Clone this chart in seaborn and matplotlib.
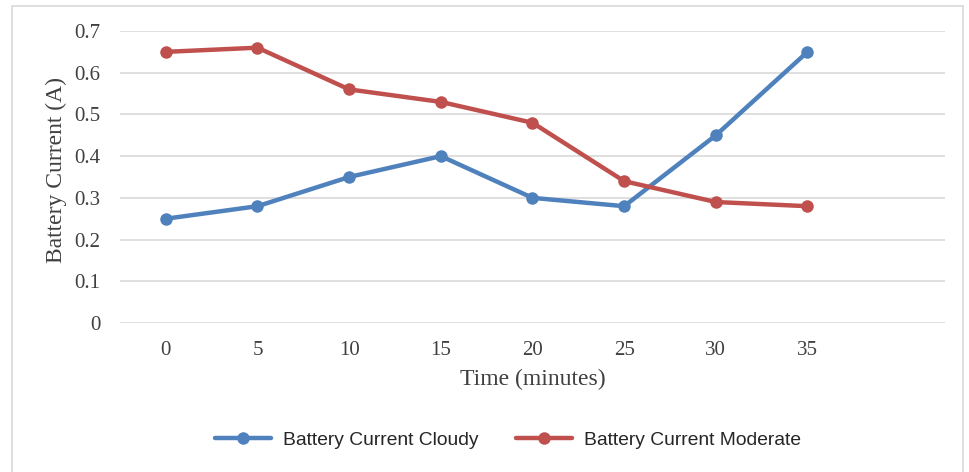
import matplotlib
matplotlib.use("Agg")
import matplotlib.pyplot as plt
from matplotlib.patches import Rectangle
import seaborn as sns
import pandas as pd

time_labels = ["0", "5", "10", "15", "20", "25", "30", "35"]
cloudy = [0.25, 0.28, 0.35, 0.40, 0.30, 0.28, 0.45, 0.65]
moderate = [0.65, 0.66, 0.56, 0.53, 0.48, 0.34, 0.29, 0.28]
series_names = ["Battery Current Cloudy", "Battery Current Moderate"]
y_ticks = [0, 0.1, 0.2, 0.3, 0.4, 0.5, 0.6, 0.7]
y_tick_labels = ["0", "0.1", "0.2", "0.3", "0.4", "0.5", "0.6", "0.7"]

df = pd.DataFrame({
    "pos": list(range(len(time_labels))) * 2,
    "current": cloudy + moderate,
    "series": [series_names[0]] * len(cloudy) + [series_names[1]] * len(moderate),
})

sns.set_theme(style="white")
serif = ["Liberation Serif", "DejaVu Serif"]
sans = ["Liberation Sans", "DejaVu Sans"]
text_grey = "#404040"

fig = plt.figure(figsize=(9.7, 4.72), dpi=100)
ax = fig.add_axes([120 / 970, 1 - 323 / 472, (945 - 120) / 970, (323 - 31) / 472])

palette = {series_names[0]: "#4F81BD", series_names[1]: "#C0504D"}
sns.lineplot(data=df, x="pos", y="current", hue="series", palette=palette,
             marker="o", markersize=9, markeredgewidth=0, linewidth=3.2,
             ax=ax, legend=False)

ax.set_xlim(-0.5, 8.5)
ax.set_ylim(0, 0.7)
ax.set_xticks(range(len(time_labels)))
ax.set_xticklabels(time_labels, family=serif, fontsize=15, color=text_grey)
ax.set_yticks(y_ticks)
ax.set_yticklabels(y_tick_labels, family=serif, fontsize=15, color=text_grey)
ax.tick_params(axis="x", length=0, pad=13)
ax.tick_params(axis="y", length=0, pad=14)
ax.grid(axis="y", color="#d9d9d9", linewidth=1.2)
ax.set_axisbelow(True)
for s in ax.spines.values():
    s.set_visible(False)

ax.set_xlabel("Time (minutes)", family=serif, fontsize=17, color=text_grey, labelpad=6)
ax.set_ylabel("Battery Current (A)", family=serif, fontsize=17, color=text_grey)
ax.yaxis.set_label_coords(-0.064, 0.525)

handles = [plt.Line2D([], [], color=palette[n], marker="o", markersize=9,
                      markeredgewidth=0, linewidth=3.2) for n in series_names]
fig.legend(handles, series_names, loc="center", bbox_to_anchor=(508 / 970, 1 - 440 / 472),
           ncol=2, frameon=False, prop={"family": sans, "size": 13.9},
           handlelength=2.9, columnspacing=1.95, handletextpad=0.6)

fig.patches.append(Rectangle((12 / 970, -0.05), (963 - 12) / 970, 1.05 - 6 / 472,
                             transform=fig.transFigure, fill=False,
                             edgecolor="#d9d9d9", linewidth=1.2))

fig.savefig("out.png", dpi=100)
